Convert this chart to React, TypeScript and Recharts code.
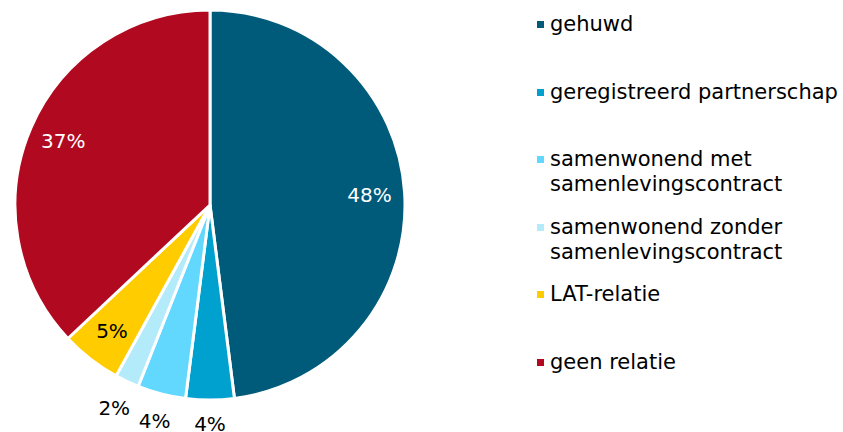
import React from 'react';
import { PieChart, Pie, Cell, Legend } from 'recharts';

const categories: string[][] = [
  ['gehuwd'],
  ['geregistreerd partnerschap'],
  ['samenwonend met', 'samenlevingscontract'],
  ['samenwonend zonder', 'samenlevingscontract'],
  ['LAT-relatie'],
  ['geen relatie'],
];
const values: number[] = [48, 4, 4, 2, 5, 37];
const colors: string[] = ['#005B7B', '#00A1CE', '#62D8FF', '#B4EBFB', '#FFCC00', '#B1091F'];
const labelColors: string[] = ['#FFFFFF', '#000000', '#000000', '#000000', '#000000', '#FFFFFF'];

const data = categories.map((c, i) => ({ name: c.join(' '), value: values[i] }));

const FONT = '"DejaVu Sans", Verdana, sans-serif';
const RADIAN = Math.PI / 180;

const renderLabel = (props: any) => {
  const { cx, cy, midAngle, outerRadius, index, value } = props;
  const cos = Math.cos(-midAngle * RADIAN);
  const sin = Math.sin(-midAngle * RADIAN);
  let r: number;
  if (value >= 5) {
    r = outerRadius * 0.82;
  } else {
    r = outerRadius + 14 + Math.abs(cos) * 16 + Math.abs(sin) * 10;
  }
  const x = cx + r * cos;
  const y = cy + r * sin;
  return (
    <text
      x={x}
      y={y}
      textAnchor="middle"
      dominantBaseline="central"
      fill={value >= 5 ? labelColors[index] : '#000000'}
      fontFamily={FONT}
      fontSize={20}
    >
      {`${value}%`}
    </text>
  );
};

const renderLegend = () => (
  <div style={{ position: 'relative', width: 313, height: 432, fontFamily: FONT, fontSize: 21, color: '#000' }}>
    {categories.map((lines, i) => (
      <div key={i} style={{ position: 'absolute', left: 0, top: 12 + 67.5 * i, lineHeight: '25px' }}>
        <div
          style={{
            position: 'absolute',
            left: 6,
            top: 9,
            width: 7,
            height: 7,
            background: colors[i],
          }}
        />
        <div style={{ marginLeft: 19, whiteSpace: 'nowrap' }}>
          {lines.map((l, j) => (
            <div key={j}>{l}</div>
          ))}
        </div>
      </div>
    ))}
  </div>
);

export default function App() {
  return (
    <div style={{ position: 'absolute', left: 0, top: 0, width: 843, height: 432, background: '#fff' }}>
      <PieChart width={843} height={432} margin={{ top: 0, right: 0, bottom: 0, left: 0 }}>
        <Pie
          data={data}
          dataKey="value"
          nameKey="name"
          cx={210}
          cy={205}
          outerRadius={195}
          startAngle={90}
          endAngle={-270}
          stroke="#FFFFFF"
          strokeWidth={3}
          label={renderLabel}
          labelLine={false}
          isAnimationActive={false}
        >
          {data.map((d, i) => (
            <Cell key={i} fill={colors[i]} />
          ))}
        </Pie>
        <Legend
          content={renderLegend}
          wrapperStyle={{ position: 'absolute', left: 531, top: 0, width: 313, height: 432 }}
        />
      </PieChart>
    </div>
  );
}
